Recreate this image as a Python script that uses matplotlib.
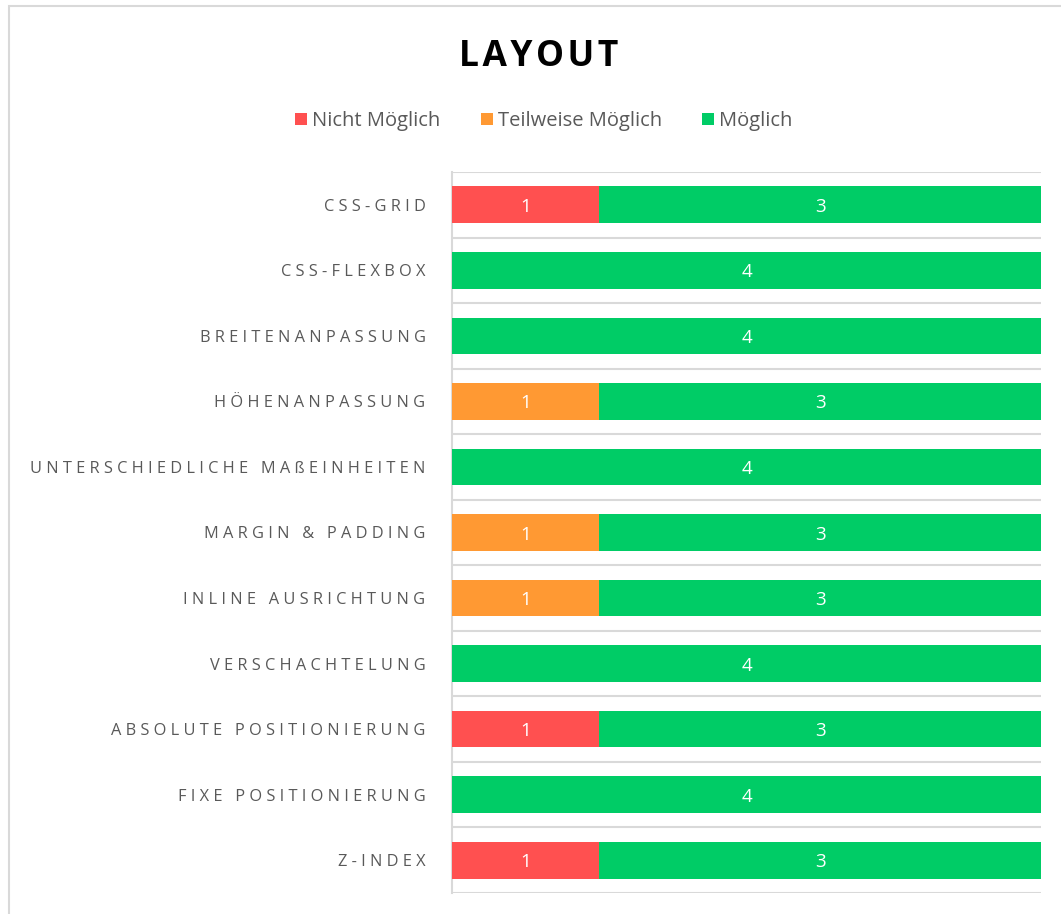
import matplotlib
matplotlib.use("Agg")
import matplotlib.pyplot as plt
import numpy as np
from matplotlib.patches import Rectangle

plt.rcParams['font.family'] = ['Open Sans', 'DejaVu Sans']

categories = ['CSS-GRID', 'CSS-FLEXBOX', 'BREITENANPASSUNG', 'HÖHENANPASSUNG',
              'UNTERSCHIEDLICHE MAßEINHEITEN', 'MARGIN & PADDING', 'INLINE AUSRICHTUNG',
              'VERSCHACHTELUNG', 'ABSOLUTE POSITIONIERUNG', 'FIXE POSITIONIERUNG', 'Z-INDEX']
nicht = [1, 0, 0, 0, 0, 0, 0, 0, 1, 0, 1]
teilweise = [0, 0, 0, 1, 0, 1, 1, 0, 0, 0, 0]
moeglich = [3, 4, 4, 3, 4, 3, 3, 4, 3, 4, 3]

series = [('Nicht Möglich', nicht, '#FF5050'),
          ('Teilweise Möglich', teilweise, '#FF9933'),
          ('Möglich', moeglich, '#00CC66')]


def spaced(s):
    # fake letter spacing
    return '   '.join(' '.join(w) for w in s.split(' '))


fig = plt.figure(figsize=(10.61, 9.14), dpi=100)
ax = fig.add_axes([452 / 1061, 1 - 893 / 914, 589 / 1061, 721 / 914])

y = np.arange(len(categories))
left = np.zeros(len(categories))
for name, vals, col in series:
    vals = np.array(vals, dtype=float)
    bars = ax.barh(y, vals, left=left, height=0.56, color=col, label=name, zorder=3)
    for b, v in zip(bars, vals):
        if v > 0:
            ax.text(b.get_x() + b.get_width() / 2, b.get_y() + b.get_height() / 2, f'{int(v)}',
                    ha='center', va='center_baseline', color='white', fontsize=13.5, zorder=4)
    left += vals

ax.set_xlim(0, 4)
ax.set_ylim(len(categories) - 0.5, -0.5)
ax.set_yticks(y)
ax.set_yticklabels([spaced(c) for c in categories], fontsize=11.8, color='#595959')
ax.tick_params(axis='y', length=0, pad=19)
ax.set_xticks([])

# separators between categories
for b in np.arange(-0.5, len(categories) + 0.5, 1):
    ax.axhline(b, color='#D9D9D9', lw=1.5, zorder=1)
for s in ['top', 'right', 'bottom']:
    ax.spines[s].set_visible(False)
ax.spines['left'].set_color('#D9D9D9')
ax.spines['left'].set_linewidth(1.5)

fig.text(539 / 1061, 1 - 53 / 914, 'L\u200aA\u200aY\u200aO\u200aU\u200aT', ha='center', va='center_baseline',
         fontsize=25.5, fontweight='bold', color='black')
fig.legend(loc='center', bbox_to_anchor=(544 / 1061, 1 - 121 / 914), ncol=3,
           frameon=False, fontsize=14.5, handlelength=0.6, handleheight=0.6,
           handletextpad=0.25, columnspacing=2.0, labelcolor='#595959')

fig.patches.append(Rectangle((9 / 1061, -0.1), 1.2, 1 - 6 / 914 + 0.1, transform=fig.transFigure,
                             fill=False, edgecolor='#D9D9D9', lw=1.5))

fig.savefig('out.png', dpi=100)
